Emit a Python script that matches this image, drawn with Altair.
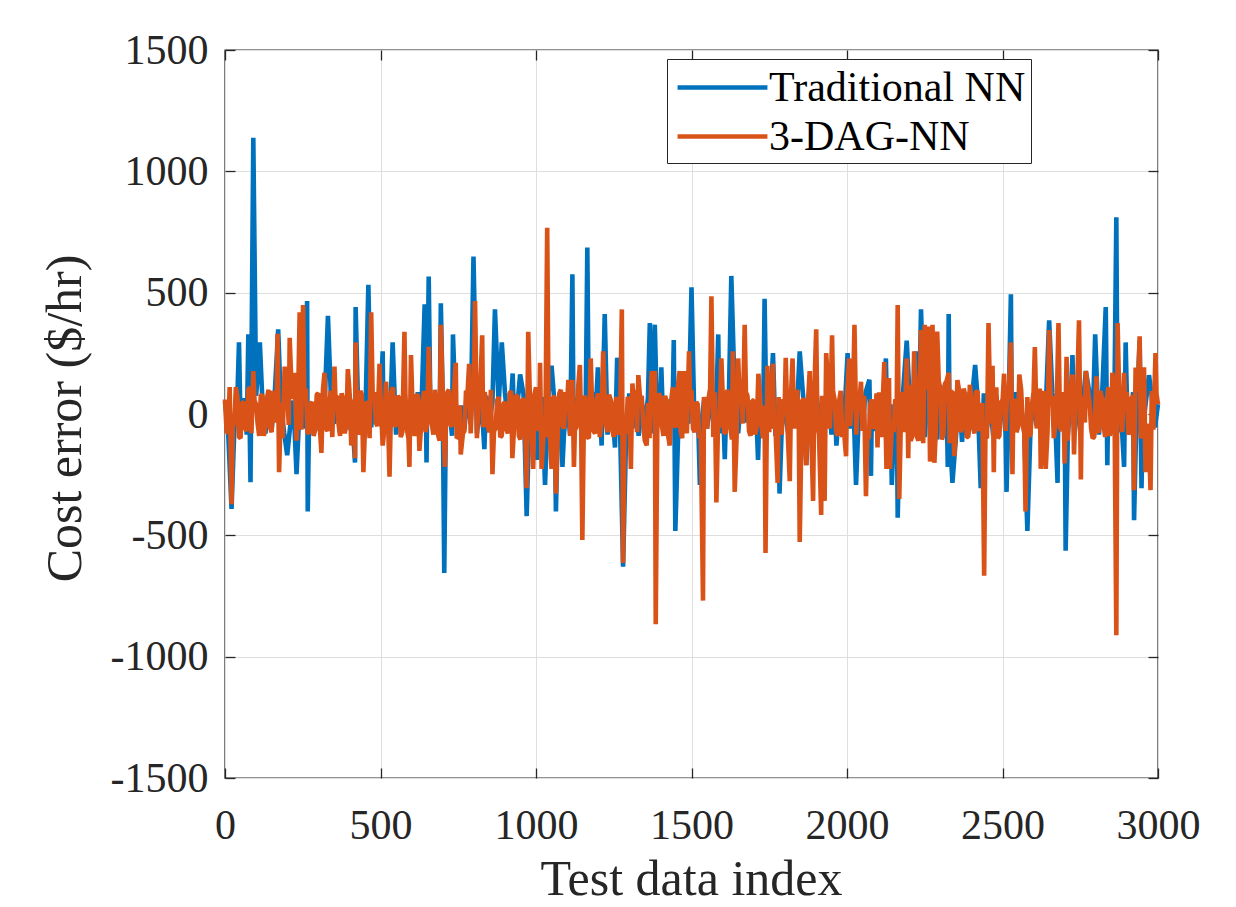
import altair as alt
import pandas as pd

# ---------------- data ----------------
SERIES = ["Traditional NN", "3-DAG-NN"]
COLORS = ["#0072BD", "#D95319"]

X_TICKS = [0, 500, 1000, 1500, 2000, 2500, 3000]
Y_TICKS = [-1500, -1000, -500, 0, 500, 1000, 1500]

# Traditional NN: background wiggle, one value every 10 test indices (0..3000)
blue_base_step = 10
blue_base = [
    50, -70, 35, -60, 80, -40, 65, -85, 45, -55, 75, -35, 60, -80, 40, -65, 85, -50, 30, -75,
    70, -45, 55, -90, 35, -60, 80, -50, 40, -70, 65, -85, 30, -55, 90, -40, 60, -75, 45, -65,
    85, -35, 50, -70, 60, -90, 40, -55, 75, -45, 35, -80, 65, -60, 45, -85, 70, -40, 55, -75,
    40, -65, 90, -50, 30, -75, 60, -45, 80, -70, 55, -35, 45, -90, 70, -55, 35, -60, 85, -40,
    65, -80, 45, -60, 75, -35, 50, -85, 40, -70, 90, -45, 60, -55, 35, -75, 80, -65, 50, -90,
    55, -40, 70, -75, 85, -60, 35, -50, 65, -80, 45, -90, 75, -35, 60, -70, 40, -55, 90, -45,
    80, -55, 40, -85, 50, -65, 70, -40, 35, -75, 85, -60, 55, -90, 45, -35, 65, -80, 75, -50,
    35, -90, 60, -45, 80, -70, 50, -55, 90, -40, 65, -75, 40, -85, 55, -60, 70, -35, 45, -80,
    90, -50, 55, -65, 40, -80, 75, -35, 60, -85, 35, -55, 85, -70, 50, -45, 65, -90, 30, -60,
    60, -75, 85, -40, 45, -90, 55, -70, 80, -50, 40, -65, 70, -35, 90, -85, 50, -60, 75, -45,
    45, -60, 75, -85, 65, -40, 90, -55, 35, -70, 80, -50, 60, -75, 40, -90, 55, -35, 85, -65,
    100, -80, 90, -110, 70, -95, 115, -75, 85, -105, 120, -90, 95, -70, 110, -100, 80, -115, 90, -85,
    40, -70, 65, -45, 85, -55, 50, -90, 75, -35, 60, -80, 45, -65, 90, -50, 35, -75, 70, -60,
    75, -50, 35, -85, 55, -70, 90, -40, 60, -65, 45, -90, 80, -55, 40, -75, 65, -45, 85, -35,
    55, -85, 70, -40, 45, -60, 80, -75, 35, -90, 65, -50, 90, -45, 60, -80, 40, -70, 75, -55,
    40,
]
# Traditional NN: visible spikes (test index, cost error)
blue_spike_idx = [
    21, 45, 75, 82, 91, 112, 171, 200, 230, 264, 266, 331, 418, 420, 461, 507, 539, 642, 648, 655,
    694, 705, 733, 799, 834, 868, 890, 925, 949, 970, 1004, 1029, 1050, 1064, 1085, 1117, 1165, 1199, 1211, 1221,
    1254, 1261, 1280, 1366, 1382, 1403, 1443, 1448, 1500, 1527, 1586, 1607, 1628, 1714, 1735, 1762, 1783, 1848, 1869, 1966,
    2002, 2029, 2072, 2077, 2125, 2144, 2163, 2192, 2222, 2238, 2324, 2327, 2339, 2412, 2430, 2513, 2527, 2580, 2650, 2677,
    2703, 2725, 2768, 2798, 2832, 2837, 2866, 2891, 2896, 2923, 2941, 2947, 2971,
]
blue_spike_val = [
    -391, 295, 328, -281, 1138, 295, 349, -170, -248, 466, -402, 405, -200, 441, 532, 258, 295, 452, -200, 566,
    456, -655, 328, 649, -145, 431, 295, 167, 163, -421, -189, -292, 199, -402, -218, 576, 686, 192, -130, 412,
    -138, 232, -629, 375, 368, 192, 305, -482, 522, -292, 328, -186, 569, -189, 475, 251, -328, 258, -211, -130,
    251, -292, 141, -255, 229, -292, -427, 302, 258, 431, -218, 412, -284, 202, -306, -321, 493, -482, 386, -284,
    -563, 243, 177, 328, 441, -211, 811, -218, 295, -438, 302, -306, 160,
]

# 3-DAG-NN: background wiggle at test indices 0, 10, 20, ..., 3000
orange_base_step = 10
orange_base = [
    60, -80, 95, -40, 70, -100, 50, -70, 110, -60, 40, -90, 80, -50, 100, -75, 65, -85, 45, -95,
    90, -55, 70, -110, 60, -45, 105, -80, 50, -65, 85, -100, 40, -70, 95, -55, 75, -90, 60, -45,
    100, -70, 55, -85, 80, -60, 45, -105, 90, -50, 70, -95, 60, -80, 110, -45, 65, -75, 85, -100,
    50, -90, 75, -60, 95, -40, 70, -85, 55, -110, 80, -65, 100, -50, 60, -95, 45, -70, 90, -80,
    65, -100, 85, -55, 40, -75, 105, -60, 70, -90, 50, -80, 95, -45, 75, -105, 60, -70, 85, -50,
    110, -65, 55, -95, 80, -40, 70, -85, 100, -60, 45, -90, 75, -55, 95, -70, 60, -100, 50, -80,
    85, -45, 105, -75, 60, -95, 70, -50, 90, -80, 55, -65, 100, -40, 75, -110, 45, -85, 95, -60,
    70, -90, 50, -70, 110, -55, 80, -100, 60, -45, 95, -75, 40, -85, 70, -60, 105, -95, 55, -50,
    90, -80, 65, -105, 45, -60, 100, -70, 75, -90, 55, -45, 85, -100, 60, -75, 110, -55, 70, -85,
    50, -95, 80, -60, 100, -40, 65, -110, 90, -70, 45, -85, 75, -55, 105, -80, 60, -90, 95, -65,
    75, -50, 110, -85, 55, -70, 90, -100, 60, -45, 80, -95, 70, -60, 100, -75, 50, -105, 85, -55,
    120, -90, 140, -110, 95, -130, 150, -100, 115, -145, 105, -85, 135, -120, 90, -70, 100, -60, 80, -95,
    65, -80, 95, -50, 75, -100, 55, -65, 110, -90, 45, -70, 85, -105, 60, -55, 100, -75, 70, -85,
    90, -60, 105, -85, 50, -95, 75, -45, 100, -70, 60, -110, 80, -55, 95, -65, 70, -90, 45, -100,
    85, -75, 60, -95, 110, -50, 70, -85, 55, -100, 90, -60, 75, -45, 105, -80, 65, -70, 95, -55,
    40,
]
# 3-DAG-NN: background wiggle at test indices 5, 15, 25, ..., 2995
orange_mid_start = 5
orange_mid = [
    -70, 85, -50, 90, -95, 45, -60, 100, -80, 55, -40, 75, -90, 65, -55, 95, -35, 80, -100, 60,
    -45, 70, -85, 50, -65, 95, -75, 40, -90, 80, -55, 100, -60, 45, -95, 70, -40, 85, -80, 55,
    -90, 60, -45, 95, -70, 50, -100, 65, -35, 85, -75, 40, -60, 90, -50, 75, -95, 55, -65, 100,
    -55, 80, -95, 45, -75, 60, -40, 100, -85, 50, -70, 90, -45, 65, -100, 35, -80, 95, -60, 70,
    -85, 45, -60, 90, -50, 100, -70, 55, -95, 40, -65, 85, -35, 75, -90, 60, -55, 95, -45, 80,
    -60, 95, -75, 40, -100, 70, -50, 85, -45, 90, -80, 55, -65, 100, -40, 75, -95, 50, -70, 60,
    -95, 55, -40, 80, -65, 45, -85, 100, -55, 70, -90, 35, -75, 60, -50, 95, -100, 65, -45, 85,
    -50, 75, -90, 60, -45, 100, -70, 40, -80, 95, -60, 50, -100, 85, -35, 65, -75, 90, -55, 45,
    -75, 100, -55, 45, -95, 65, -40, 90, -70, 55, -85, 80, -50, 35, -100, 70, -60, 95, -45, 60,
    -40, 85, -100, 70, -55, 50, -90, 60, -75, 100, -45, 65, -85, 40, -60, 95, -70, 55, -95, 80,
    -65, 50, -80, 95, -45, 75, -100, 40, -60, 85, -70, 55, -90, 100, -35, 60, -55, 80, -75, 45,
    -110, 130, -95, 145, -120, 100, -140, 115, -85, 135, -105, 125, -130, 90, -115, 140, -75, 105, -95, 120,
    -55, 90, -70, 45, -95, 80, -40, 65, -100, 55, -60, 95, -85, 50, -75, 100, -45, 70, -90, 40,
    -80, 60, -50, 95, -65, 40, -100, 75, -55, 90, -45, 85, -70, 50, -95, 65, -35, 100, -60, 80,
    -70, 95, -45, 55, -90, 80, -60, 100, -75, 40, -85, 65, -50, 90, -100, 60, -40, 75, -65, 85,
]
# 3-DAG-NN: visible spikes (test index, cost error)
orange_spike_idx = [
    15, 21, 35, 91, 169, 174, 192, 208, 224, 240, 251, 310, 320, 352, 395, 406, 418, 420, 445, 470,
    497, 507, 518, 529, 577, 593, 598, 625, 655, 694, 707, 742, 758, 785, 804, 827, 860, 924, 970, 975,
    991, 1013, 1018, 1036, 1050, 1064, 1104, 1117, 1122, 1141, 1149, 1176, 1216, 1276, 1280, 1305, 1310, 1329, 1356, 1372,
    1382, 1385, 1430, 1462, 1476, 1492, 1537, 1564, 1580, 1596, 1633, 1639, 1650, 1671, 1715, 1738, 1744, 1762, 1777, 1803,
    1816, 1825, 1848, 1869, 1880, 1891, 1901, 1917, 1928, 1933, 1952, 1997, 2007, 2024, 2045, 2061, 2098, 2103, 2120, 2127,
    2135, 2138, 2163, 2168, 2192, 2197, 2216, 2238, 2250, 2262, 2267, 2275, 2281, 2290, 2327, 2345, 2441, 2455, 2468, 2472,
    2505, 2527, 2532, 2554, 2574, 2604, 2623, 2639, 2650, 2680, 2700, 2706, 2725, 2730, 2746, 2752, 2768, 2795, 2802, 2853,
    2866, 2870, 2891, 2923, 2928, 2941, 2955, 2960, 2976, 2992,
]
orange_spike_val = [
    111, -372, 111, 177, 331, -240, 195, 314, 170, 419, 449, -160, 170, 195, 185, -130, -182, 295, -240, 419,
    207, -130, 133, -258, 339, -218, 243, -152, 277, 368, -218, 211, -167, 207, 466, 324, -248, -182, -306, 339,
    -226, 211, -226, 767, -226, -328, 141, 141, -218, 202, -519, 229, 258, 431, -614, -226, 126, 160, -130, 177,
    177, -866, -130, 177, 177, 258, -769, 485, -365, 229, 258, -321, 229, 368, 166, -573, 199, 207, -284, 232,
    -277, 229, -527, -211, 177, -358, 349, -416, -358, 251, 324, -174, 229, 368, 133, -339, -138, 89, 214, -226,
    148, -226, 449, -350, 229, -182, 258, 346, 368, 360, -196, 368, -201, 340, 170, -174, -666, 375, 199, -240,
    166, 295, -248, 163, -402, 276, -226, -226, 346, 375, -204, 236, 163, -167, 386, -270, 177, -94, 155, 170,
    -912, 375, 170, -314, 192, 320, 192, -240, -314, 251,
]


def build(name, parts, sp_idx, sp_val):
    rows = []
    for start, step, vals in parts:
        for k, v in enumerate(vals):
            i = start + k * step
            if all(abs(i - s) > 2 for s in sp_idx):
                rows.append((i, v))
    rows += list(zip(sp_idx, sp_val))
    rows.sort(key=lambda r: r[0])
    return pd.DataFrame({"idx": [r[0] for r in rows], "val": [r[1] for r in rows], "series": name})


df_blue = build(SERIES[0], [(0, blue_base_step, blue_base)], blue_spike_idx, blue_spike_val)
df_orange = build(
    SERIES[1],
    [(0, orange_base_step, orange_base), (orange_mid_start, orange_base_step, orange_mid)],
    orange_spike_idx, orange_spike_val,
)

# ---------------- chart ----------------
W, H = 933, 728
FONT = "Liberation Serif"
TXT = "#262626"
LW = 4.6

xs = alt.Scale(domain=[0, 3000], nice=False, zero=False)
ys = alt.Scale(domain=[-1500, 1500], nice=False, zero=False)

color = alt.Color(
    "series:N",
    sort=SERIES,
    scale=alt.Scale(domain=SERIES, range=COLORS),
    legend=alt.Legend(
        orient="none", legendX=442, legendY=9, title=None,
        labelFont=FONT, labelFontSize=42, labelColor="#000000", labelLimit=500,
        labelOffset=23, symbolOffset=27,
        symbolType="M-2.14,0H2.14", symbolSize=1764, symbolStrokeWidth=4.5,
        padding=5, rowPadding=4, strokeColor=TXT, fillColor="white", cornerRadius=0,
    ),
)

main_x = alt.Axis(
    values=X_TICKS, labelExpr="'' + datum.value", title="Test data index",
    grid=True, ticks=False, tickSize=0, domain=False, labelFlush=False, labelOverlap=False,
    labelPadding=60, labelBaseline="alphabetic",
    titleX=466, titleY=116, titleBaseline="alphabetic",
)
main_y = alt.Axis(
    values=Y_TICKS, labelExpr="'' + datum.value", title="Cost error ($/hr)",
    grid=True, ticks=False, tickSize=0, domain=False, labelPadding=17,
    labelFlush=False, labelOverlap=False,
    titleX=-145, titleY=368, titleBaseline="alphabetic", titleAngle=270, titleAlign="center",
)


def tick_axis(orient, offset, vals):
    return alt.Axis(orient=orient, offset=offset, values=vals, labels=False, grid=False,
                    domain=False, ticks=True, tickSize=10, title=None)


blue = alt.Chart(df_blue).mark_line(strokeWidth=LW, strokeJoin="bevel").encode(
    x=alt.X("idx:Q", scale=xs, axis=main_x),
    y=alt.Y("val:Q", scale=ys, axis=main_y),
    color=color,
)
orange = alt.Chart(df_orange).mark_line(strokeWidth=LW, strokeJoin="bevel").encode(
    x=alt.X("idx:Q", scale=xs, axis=None),
    y=alt.Y("val:Q", scale=ys, axis=None),
    color=color,
)
ticks_a = alt.Chart(df_orange).mark_line(opacity=0).encode(
    x=alt.X("idx:Q", scale=xs, axis=tick_axis("top", -H, X_TICKS)),
    y=alt.Y("val:Q", scale=ys, axis=tick_axis("right", -W, Y_TICKS)),
)
ticks_b = alt.Chart(df_orange).mark_line(opacity=0).encode(
    x=alt.X("idx:Q", scale=xs, axis=tick_axis("bottom", -H, X_TICKS)),
    y=alt.Y("val:Q", scale=ys, axis=tick_axis("left", -W, Y_TICKS)),
)

chart = (
    alt.layer(blue, orange, ticks_a, ticks_b)
    .resolve_axis(x="independent", y="independent")
    .properties(
        width=W, height=H,
        autosize=alt.AutoSizeParams(type="none"),
        padding={"left": 217, "top": 42, "right": 60, "bottom": 126},
        background="white",
    )
    .configure_view(stroke=TXT, strokeWidth=1.4)
    .configure_axis(
        labelFont=FONT, titleFont=FONT, labelFontSize=42, titleFontSize=50,
        labelColor=TXT, titleColor=TXT, titleFontWeight="normal",
        gridColor="#dedede", gridWidth=1, tickColor=TXT, tickWidth=1.3,
    )
)

chart.save("out.html", embed_options={"renderer": "svg", "actions": False})
